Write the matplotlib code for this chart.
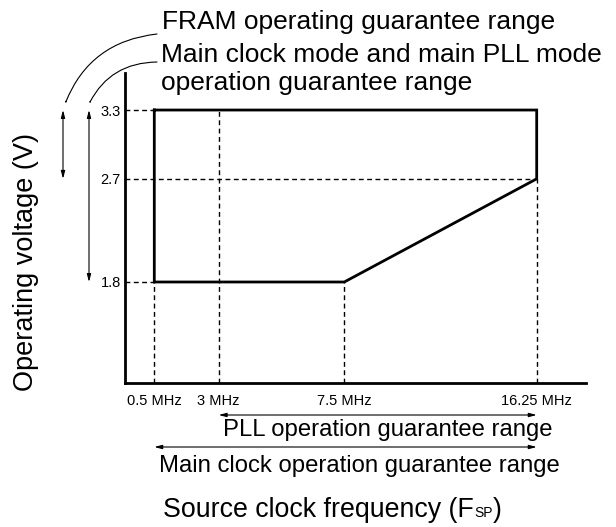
import numpy as np
import matplotlib
matplotlib.use("Agg")
import matplotlib.pyplot as plt
from matplotlib.patches import FancyArrowPatch

plt.rcParams['font.family'] = ['Liberation Sans', 'DejaVu Sans']

# ---- data ----
freq_ticks = [0.5, 3, 7.5, 16.25]
freq_labels = ['0.5 MHz', '3 MHz', '7.5 MHz', '16.25 MHz']
volt_ticks = [1.8, 2.7, 3.3]
volt_labels = ['1.8', '2.7', '3.3']
# guaranteed operation region (frequency MHz, voltage V)
region_freq = [0.5, 16.25, 16.25, 7.5, 0.5, 0.5]
region_volt = [3.3, 3.3, 2.7, 1.8, 1.8, 3.3]
fram_range = (2.7, 3.3)
main_range = (1.8, 3.3)
pll_freq_range = (3, 16.25)
main_freq_range = (0.5, 16.25)

W, H = 616, 527
fig = plt.figure(figsize=(W / 100, H / 100), dpi=100)
ax = fig.add_axes([125 / W, 1 - 383 / H, (586 - 125) / W, (383 - 73) / H])

# schematic (not-to-scale) frequency axis: piecewise linear scale
_xd = np.array([-0.637, 0.5, 3, 7.5, 16.25, 18.49])
_xp = np.array([0, 29.3, 93.7, 219.3, 411.7, 461.0])

def _fwd(x):
    x = np.asarray(x, dtype=float)
    y = np.interp(x, _xd, _xp)
    lo = x < _xd[0]
    hi = x > _xd[-1]
    y = np.where(lo, _xp[0] + (x - _xd[0]) * (_xp[1] - _xp[0]) / (_xd[1] - _xd[0]), y)
    y = np.where(hi, _xp[-1] + (x - _xd[-1]) * (_xp[-1] - _xp[-2]) / (_xd[-1] - _xd[-2]), y)
    return y

def _inv(y):
    y = np.asarray(y, dtype=float)
    x = np.interp(y, _xp, _xd)
    lo = y < _xp[0]
    hi = y > _xp[-1]
    x = np.where(lo, _xd[0] + (y - _xp[0]) * (_xd[1] - _xd[0]) / (_xp[1] - _xp[0]), x)
    x = np.where(hi, _xd[-1] + (y - _xp[-1]) * (_xd[-1] - _xd[-2]) / (_xp[-1] - _xp[-2]), x)
    return x

ax.set_xscale('function', functions=(_fwd, _inv))
x0, x1 = -0.637, 18.49
y0, y1 = 0.919, 3.623
ax.set_xlim(x0, x1)
ax.set_ylim(y0, y1)

# dashed guide lines
dash = dict(color='black', lw=1.0, ls=(0, (3.5, 2.5)))
ax.plot([x0, region_freq[0]], [3.3, 3.3], **dash)
ax.plot([x0, 16.25], [2.7, 2.7], **dash)
ax.plot([x0, 0.5], [1.8, 1.8], **dash)
ax.plot([0.5, 0.5], [y0, 1.8], **dash)
ax.plot([3, 3], [y0, 3.3], **dash)
ax.plot([7.5, 7.5], [y0, 1.8], **dash)
ax.plot([16.25, 16.25], [y0, 2.7], **dash)

# region outline
ax.plot(region_freq, region_volt, color='black', lw=2.0, solid_joinstyle='miter')

for s in ['top', 'right']:
    ax.spines[s].set_visible(False)
for s in ['left', 'bottom']:
    ax.spines[s].set_linewidth(2.0)

ax.minorticks_off()
ax.tick_params(axis='x', length=0, pad=8)
ax.tick_params(axis='y', length=0, pad=3)
ax.set_xticks(freq_ticks)
ax.set_xticklabels(freq_labels, fontsize=10.5)
ax.set_yticks(volt_ticks)
ax.set_yticklabels(volt_labels, fontsize=10.5)

def fp(x, y):
    return (x / W, 1 - y / H)

# left vertical range arrows
vstyle = dict(arrowstyle='<|-|>,head_length=0.45,head_width=0.12', lw=0.8, color='black',
              shrinkA=0, shrinkB=0)
ax.annotate('', xy=(63 / W, fram_range[0]), xytext=(63 / W, fram_range[1]),
            xycoords=('figure fraction', 'data'), textcoords=('figure fraction', 'data'),
            arrowprops=vstyle, annotation_clip=False)
ax.annotate('', xy=(89 / W, main_range[0]), xytext=(89 / W, main_range[1]),
            xycoords=('figure fraction', 'data'), textcoords=('figure fraction', 'data'),
            arrowprops=vstyle, annotation_clip=False)

# bottom horizontal range arrows
ax.annotate('', xy=(pll_freq_range[1], 1 - 415 / H), xytext=(pll_freq_range[0], 1 - 415 / H),
            xycoords=('data', 'figure fraction'), textcoords=('data', 'figure fraction'),
            arrowprops=vstyle, annotation_clip=False)
ax.annotate('', xy=(main_freq_range[1], 1 - 447 / H), xytext=(main_freq_range[0], 1 - 447 / H),
            xycoords=('data', 'figure fraction'), textcoords=('data', 'figure fraction'),
            arrowprops=vstyle, annotation_clip=False)

# curved leader arrows
cstyle = dict(arrowstyle='-|>,head_length=0.45,head_width=0.12', lw=0.8, color='black',
              shrinkA=0, shrinkB=0, connectionstyle='arc3,rad=0.3')
fig.add_artist(FancyArrowPatch(posA=fp(157, 34), posB=fp(65, 104),
               transform=fig.transFigure, **cstyle))
fig.add_artist(FancyArrowPatch(posA=fp(157, 62), posB=fp(89, 104),
               transform=fig.transFigure, **cstyle))

# texts
fig.text(*fp(162, 28.5), 'FRAM operating guarantee range', fontsize=19, va='baseline', ha='left')
fig.text(*fp(161, 62), 'Main clock mode and main PLL mode', fontsize=19, va='baseline', ha='left')
fig.text(*fp(161, 90), 'operation guarantee range', fontsize=19, va='baseline', ha='left')
fig.text(*fp(222.7, 435.7), 'PLL operation guarantee range', fontsize=17.2, va='baseline', ha='left')
fig.text(*fp(159, 472), 'Main clock operation guarantee range', fontsize=17.2, va='baseline', ha='left')

fig.text(*fp(26, 262), 'Operating voltage (V)', fontsize=19.5, rotation=90, ha='center', va='center')

# x-axis title with small "SP"
big, small = 19.3, 10.0
t1 = fig.text(*fp(163, 517), 'Source clock frequency (F', fontsize=big, va='baseline', ha='left')
t2 = fig.add_artist(matplotlib.text.Annotation(
    'SP', xy=(1, 0), xycoords=t1, xytext=(0.3, 0.212 * big), textcoords='offset points',
    fontsize=small, va='baseline', ha='left'))
t3 = fig.add_artist(matplotlib.text.Annotation(
    ')', xy=(1, 0), xycoords=t2, xytext=(0.3, 0.212 * small), textcoords='offset points',
    fontsize=big, va='baseline', ha='left'))

fig.savefig('out.png', dpi=100)
